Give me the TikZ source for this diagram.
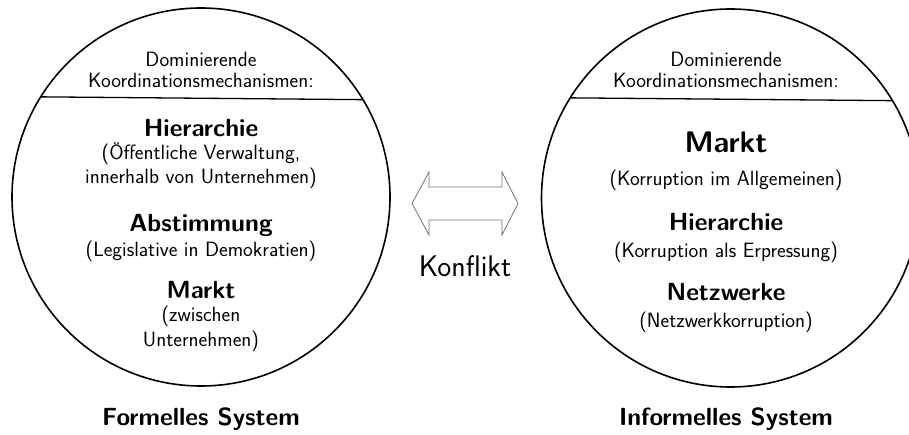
\documentclass[tikz,border=0pt]{standalone}
\begin{document}
\begin{tikzpicture}[x=1pt,y=1pt,
  circ/.style={circle, draw, line width=1.6pt, minimum size=378pt, inner sep=0pt, outer sep=0pt},
  txt/.style={font=\sffamily\fontsize{20.7}{24.8}\selectfont, inner sep=0pt, anchor=base},
  head/.style={font=\sffamily\bfseries\fontsize{24.8}{30}\selectfont, inner sep=0pt, anchor=base},
  bighead/.style={font=\sffamily\bfseries\fontsize{29.8}{36}\selectfont, inner sep=0pt, anchor=base},
  label/.style={font=\sffamily\fontsize{29.8}{36}\selectfont, inner sep=0pt, anchor=base},
  chord/.style={line width=1.3pt},
  conflict/.style={draw=black!55, line width=0.8pt, line join=miter}]
\useasboundingbox (0,0) rectangle (909,434);

% the two systems
\node[circ] (lc) at (201,237) {};
\node[circ] (rc) at (730.5,236) {};
\draw[chord] (lc.148.76) -- (lc.31.24);
\draw[chord] (rc.148.4) -- (rc.31.6);

% formal system
\node[txt]  (lh1) at (201,367) {Dominierende};
\node[txt]  (lh2) at (201,346) {Koordinationsmechanismen:};
\node[head] (la)  at (201,297) {Hierarchie};
\node[txt]  (la1) at (201,274) {(Öffentliche Verwaltung,};
\node[txt]  (la2) at (201,250) {innerhalb von Unternehmen)};
\node[head] (lb)  at (201,203) {Abstimmung};
\node[txt]  (lb1) at (201,178) {(Legislative in Demokratien)};
\node[head] (lm)  at (201,136) {Markt};
\node[txt]  (lm1) at (201,113) {(zwischen};
\node[txt]  (lm2) at (201,88)  {Unternehmen)};
\node[head] (ln)  at (201,9)   {Formelles System};

% informal system
\node[txt]  (rh1) at (726,367) {Dominierende};
\node[txt]  (rh2) at (726,346) {Koordinationsmechanismen:};
\node[bighead] (ra) at (726,281) {Markt};
\node[txt]  (ra1) at (726,248) {(Korruption im Allgemeinen)};
\node[head] (rb)  at (726,204) {Hierarchie};
\node[txt]  (rb1) at (726,177) {(Korruption als Erpressung)};
\node[head] (rn)  at (726,134) {Netzwerke};
\node[txt]  (rn1) at (726,107) {(Netzwerkkorruption)};
\node[head] (rs)  at (726,9)   {Informelles System};

% conflict between them
\draw[conflict] (412,230.5) -- (429,262) -- (429,247) -- (502,247) -- (502,262)
  -- (518,230.5) -- (502,199) -- (502,214) -- (429,214) -- (429,199) -- cycle;
\node[label] (k) at (465,158) {Konflikt};
\end{tikzpicture}
\end{document}
